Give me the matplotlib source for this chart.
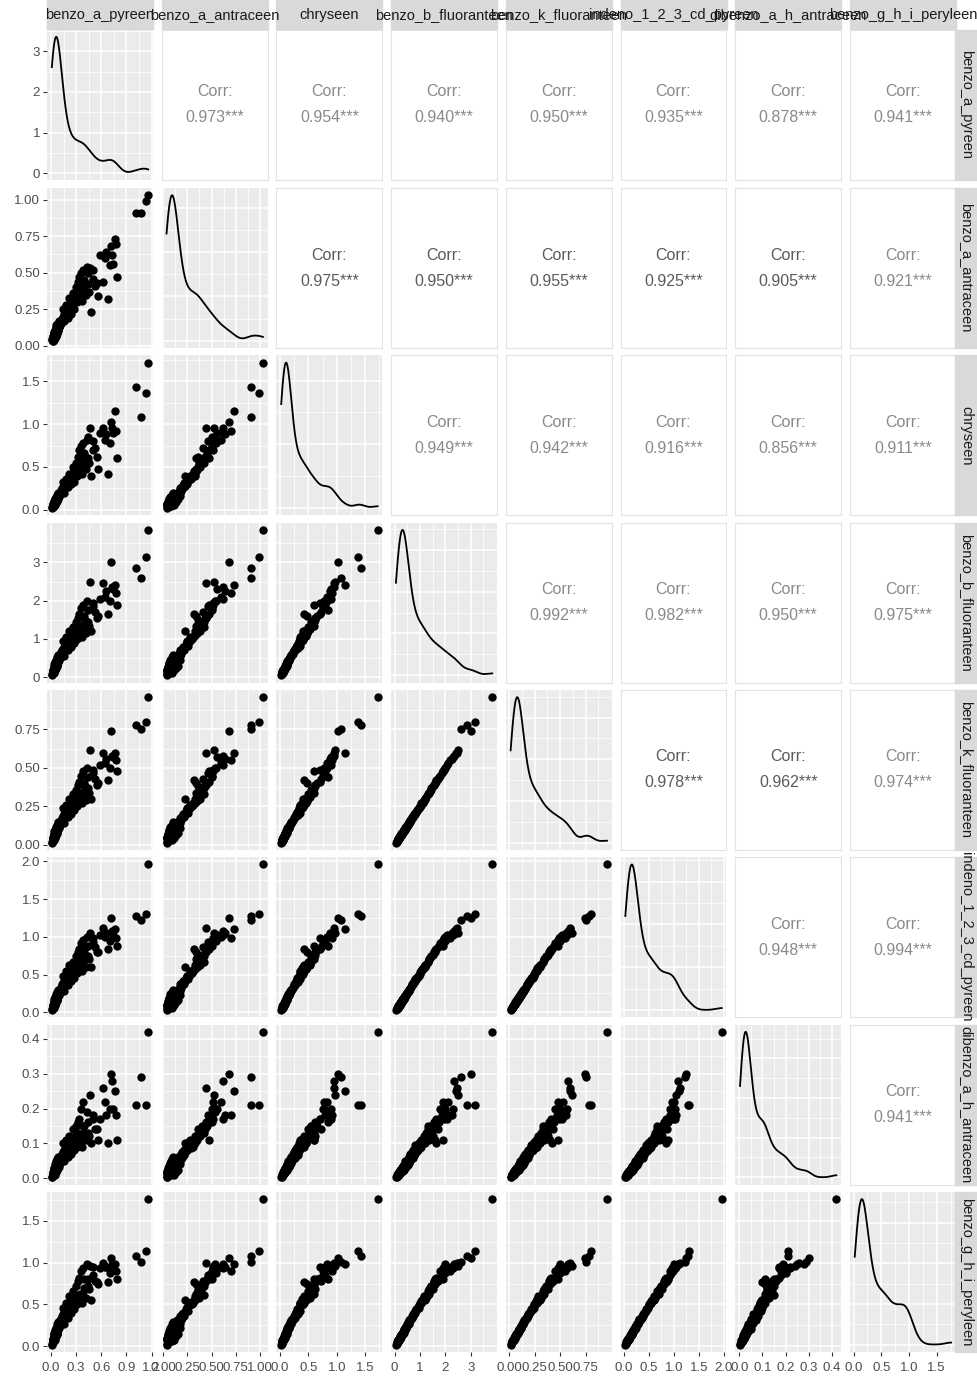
import numpy as np
import matplotlib
matplotlib.use('Agg')
import matplotlib.pyplot as plt
from matplotlib.ticker import FixedLocator, MaxNLocator

plt.rcParams['font.family'] = ['Liberation Sans', 'DejaVu Sans']

# variable names (facet strips)
names = ['benzo_a_pyreen', 'benzo_a_antraceen', 'chryseen', 'benzo_b_fluoranteen',
         'benzo_k_fluoranteen', 'indeno_1_2_3_cd_pyreen', 'dibenzo_a_h_antraceen',
         'benzo_g_h_i_peryleen']

bap = [0.010, 0.015, 0.020, 0.022, 0.025, 0.028, 0.030, 0.032, 0.035, 0.037,
       0.040, 0.042, 0.045, 0.047, 0.050, 0.052, 0.055, 0.057, 0.060, 0.062,
       0.065, 0.067, 0.070, 0.072, 0.075, 0.078, 0.080, 0.082, 0.085, 0.088,
       0.090, 0.092, 0.095, 0.098, 0.100, 0.105, 0.108, 0.112, 0.115, 0.120,
       0.125, 0.130, 0.135, 0.140, 0.145, 0.150, 0.158, 0.165, 0.172, 0.180,
       0.188, 0.195, 0.205, 0.215, 0.225, 0.235, 0.250, 0.262, 0.275, 0.290,
       0.32, 0.35, 0.38, 0.41, 0.44, 0.46, 0.48, 0.50, 0.53, 0.56, 0.58,
       0.62, 0.66, 0.68, 0.72, 0.74, 0.76, 0.79,
       1.16, 1.13, 1.08, 1.01,
       0.030, 0.035, 0.038, 0.040, 0.042, 0.045, 0.048, 0.050, 0.053, 0.055,
       0.058, 0.060, 0.063, 0.065, 0.070, 0.075, 0.085, 0.095,
       0.14, 0.16, 0.18, 0.20, 0.22, 0.24, 0.26, 0.28, 0.30,
       0.31, 0.32, 0.33, 0.34, 0.35, 0.36, 0.37, 0.38, 0.39, 0.40, 0.42, 0.43, 0.44, 0.45,
       0.50, 0.55, 0.64, 0.70, 0.73, 0.78,
       0.020, 0.022, 0.025, 0.027, 0.030, 0.032, 0.034, 0.036, 0.038, 0.040,
       0.042, 0.044, 0.046, 0.048, 0.050, 0.052, 0.054, 0.056, 0.058, 0.060,
       0.062, 0.064, 0.066, 0.068, 0.070, 0.045, 0.035, 0.055, 0.040, 0.050]
baa = [0.040, 0.045, 0.050, 0.048, 0.055, 0.060, 0.058, 0.062, 0.065, 0.070,
       0.068, 0.075, 0.078, 0.080, 0.085, 0.082, 0.090, 0.088, 0.095, 0.092,
       0.100, 0.105, 0.098, 0.110, 0.112, 0.108, 0.118, 0.115, 0.125, 0.120,
       0.130, 0.128, 0.135, 0.140, 0.132, 0.145, 0.150, 0.142, 0.155, 0.160,
       0.170, 0.185, 0.175, 0.200, 0.190, 0.215, 0.205, 0.230, 0.220, 0.245,
       0.235, 0.260, 0.250, 0.275, 0.290, 0.280, 0.310, 0.330, 0.320, 0.350,
       0.37, 0.34, 0.42, 0.36, 0.50, 0.53, 0.23, 0.46, 0.41, 0.34, 0.62,
       0.44, 0.64, 0.32, 0.68, 0.56, 0.73, 0.47,
       1.03, 0.99, 0.91, 0.91,
       0.035, 0.080, 0.050, 0.095, 0.060, 0.100, 0.070, 0.110, 0.065, 0.120,
       0.075, 0.130, 0.085, 0.140, 0.090, 0.150, 0.100, 0.170,
       0.25, 0.17, 0.28, 0.19, 0.33, 0.22, 0.36, 0.25, 0.40,
       0.30, 0.44, 0.33, 0.47, 0.38, 0.50, 0.31, 0.52, 0.40, 0.45, 0.35, 0.54, 0.42, 0.37,
       0.52, 0.43, 0.60, 0.55, 0.62, 0.70,
       0.050, 0.035, 0.060, 0.045, 0.070, 0.040, 0.080, 0.055, 0.065, 0.090,
       0.050, 0.075, 0.060, 0.095, 0.070, 0.055, 0.085, 0.100, 0.065, 0.080,
       0.110, 0.070, 0.090, 0.120, 0.085, 0.058, 0.062, 0.105, 0.072, 0.068]
chry = [0.020, 0.030, 0.035, 0.040, 0.045, 0.050, 0.048, 0.055, 0.060, 0.065,
        0.070, 0.072, 0.080, 0.075, 0.085, 0.090, 0.095, 0.100, 0.098, 0.110,
        0.105, 0.120, 0.115, 0.125, 0.130, 0.135, 0.128, 0.145, 0.150, 0.140,
        0.160, 0.155, 0.170, 0.165, 0.175, 0.180, 0.190, 0.200, 0.195, 0.210,
        0.230, 0.220, 0.250, 0.240, 0.270, 0.260, 0.290, 0.280, 0.310, 0.300,
        0.330, 0.350, 0.340, 0.380, 0.360, 0.400, 0.420, 0.390, 0.450, 0.470,
        0.52, 0.60, 0.55, 0.62, 0.85, 0.96, 0.40, 0.80, 0.72, 0.48, 0.90,
        0.95, 0.88, 0.42, 1.02, 0.90, 1.15, 0.60,
        1.72, 1.37, 1.08, 1.43,
        0.070, 0.040, 0.090, 0.060, 0.100, 0.080, 0.130, 0.060, 0.120, 0.110,
        0.150, 0.090, 0.140, 0.130, 0.170, 0.120, 0.190, 0.160,
        0.33, 0.20, 0.36, 0.26, 0.42, 0.30, 0.50, 0.33, 0.55,
        0.40, 0.62, 0.45, 0.70, 0.50, 0.75, 0.42, 0.78, 0.58, 0.66, 0.48, 0.82, 0.60, 0.55,
        0.70, 0.62, 0.82, 0.78, 0.95, 0.92,
        0.030, 0.050, 0.040, 0.065, 0.045, 0.070, 0.055, 0.085, 0.060, 0.075,
        0.095, 0.065, 0.090, 0.080, 0.110, 0.070, 0.100, 0.085, 0.120, 0.095,
        0.090, 0.130, 0.105, 0.100, 0.140, 0.080, 0.062, 0.098, 0.058, 0.088]
bbf = [0.05, 0.08, 0.10, 0.12, 0.13, 0.15, 0.14, 0.17, 0.18, 0.20,
       0.21, 0.22, 0.24, 0.23, 0.26, 0.28, 0.29, 0.30, 0.32, 0.33,
       0.35, 0.34, 0.37, 0.38, 0.36, 0.40, 0.42, 0.41, 0.44, 0.46,
       0.45, 0.48, 0.50, 0.47, 0.52, 0.54, 0.56, 0.58, 0.55, 0.60,
       0.65, 0.62, 0.70, 0.68, 0.74, 0.72, 0.78, 0.80, 0.76, 0.85,
       0.88, 0.82, 0.92, 0.95, 1.00, 0.98, 1.05, 1.10, 1.08, 1.15,
       1.25, 1.35, 1.30, 1.50, 1.75, 2.50, 1.20, 1.85, 1.70, 1.60, 2.05,
       2.45, 2.25, 1.65, 3.00, 2.30, 2.40, 1.90,
       3.85, 3.15, 2.60, 2.85,
       0.20, 0.15, 0.28, 0.12, 0.35, 0.22, 0.40, 0.18, 0.33, 0.30,
       0.45, 0.25, 0.42, 0.38, 0.52, 0.30, 0.58, 0.44,
       0.95, 0.55, 1.05, 0.70, 1.20, 0.80, 1.30, 0.90, 1.45,
       1.00, 1.55, 1.10, 1.65, 1.20, 1.80, 1.05, 1.90, 1.40, 1.60, 1.15, 2.00, 1.45, 1.35,
       1.95, 1.55, 2.10, 2.00, 2.35, 2.20,
       0.10, 0.14, 0.12, 0.18, 0.15, 0.20, 0.16, 0.24, 0.19, 0.22,
       0.28, 0.20, 0.26, 0.23, 0.32, 0.22, 0.30, 0.25, 0.36, 0.28,
       0.27, 0.38, 0.31, 0.30, 0.42, 0.24, 0.19, 0.29, 0.18, 0.26]
bkf = [0.015, 0.022, 0.028, 0.032, 0.035, 0.040, 0.038, 0.045, 0.048, 0.052,
       0.055, 0.058, 0.062, 0.060, 0.068, 0.072, 0.075, 0.078, 0.082, 0.085,
       0.090, 0.088, 0.095, 0.098, 0.094, 0.102, 0.108, 0.105, 0.112, 0.118,
       0.115, 0.122, 0.128, 0.120, 0.132, 0.138, 0.142, 0.148, 0.140, 0.152,
       0.165, 0.160, 0.178, 0.172, 0.188, 0.182, 0.198, 0.202, 0.195, 0.215,
       0.222, 0.210, 0.232, 0.240, 0.252, 0.248, 0.262, 0.275, 0.270, 0.288,
       0.31, 0.34, 0.33, 0.38, 0.44, 0.62, 0.30, 0.47, 0.43, 0.40, 0.52,
       0.60, 0.56, 0.42, 0.74, 0.57, 0.60, 0.48,
       0.96, 0.80, 0.75, 0.78,
       0.050, 0.040, 0.070, 0.032, 0.088, 0.058, 0.100, 0.048, 0.085, 0.078,
       0.115, 0.065, 0.108, 0.098, 0.132, 0.080, 0.148, 0.112,
       0.24, 0.14, 0.26, 0.18, 0.30, 0.20, 0.33, 0.23, 0.36,
       0.25, 0.39, 0.28, 0.41, 0.30, 0.45, 0.27, 0.48, 0.35, 0.40, 0.29, 0.50, 0.37, 0.34,
       0.49, 0.39, 0.53, 0.50, 0.58, 0.55,
       0.026, 0.036, 0.031, 0.047, 0.039, 0.052, 0.042, 0.062, 0.049, 0.057,
       0.072, 0.052, 0.068, 0.060, 0.083, 0.057, 0.078, 0.065, 0.094, 0.073,
       0.070, 0.099, 0.081, 0.078, 0.109, 0.062, 0.049, 0.075, 0.047, 0.068]
ind = [0.03, 0.04, 0.05, 0.06, 0.07, 0.08, 0.07, 0.09, 0.10, 0.10,
       0.11, 0.12, 0.13, 0.12, 0.14, 0.15, 0.15, 0.16, 0.17, 0.17,
       0.18, 0.18, 0.19, 0.20, 0.19, 0.21, 0.22, 0.21, 0.23, 0.24,
       0.23, 0.25, 0.26, 0.25, 0.27, 0.28, 0.29, 0.30, 0.29, 0.31,
       0.34, 0.32, 0.37, 0.36, 0.39, 0.38, 0.41, 0.42, 0.40, 0.45,
       0.46, 0.44, 0.48, 0.50, 0.53, 0.51, 0.55, 0.58, 0.57, 0.60,
       0.63, 0.70, 0.67, 0.76, 0.88, 1.05, 0.60, 0.93, 0.86, 0.80, 1.02,
       1.12, 1.05, 0.84, 1.25, 1.02, 1.10, 0.88,
       1.96, 1.30, 1.22, 1.28,
       0.10, 0.08, 0.14, 0.06, 0.17, 0.11, 0.20, 0.09, 0.17, 0.15,
       0.24, 0.13, 0.22, 0.19, 0.27, 0.16, 0.30, 0.23,
       0.48, 0.28, 0.54, 0.36, 0.62, 0.41, 0.67, 0.46, 0.74,
       0.52, 0.80, 0.57, 0.84, 0.62, 0.92, 0.55, 0.96, 0.72, 0.82, 0.60, 1.00, 0.75, 0.70,
       0.98, 0.80, 1.00, 0.95, 1.08, 0.98,
       0.05, 0.07, 0.06, 0.09, 0.08, 0.10, 0.08, 0.12, 0.10, 0.11,
       0.15, 0.10, 0.14, 0.12, 0.17, 0.11, 0.16, 0.13, 0.19, 0.15,
       0.14, 0.20, 0.16, 0.16, 0.22, 0.12, 0.10, 0.15, 0.09, 0.14]
dba = [0.003, 0.005, 0.008, 0.010, 0.012, 0.010, 0.015, 0.012, 0.018, 0.020,
       0.015, 0.022, 0.020, 0.025, 0.018, 0.028, 0.025, 0.030, 0.022, 0.032,
       0.028, 0.035, 0.030, 0.038, 0.025, 0.040, 0.035, 0.042, 0.038, 0.045,
       0.032, 0.048, 0.042, 0.050, 0.038, 0.052, 0.045, 0.055, 0.060, 0.050,
       0.060, 0.070, 0.065, 0.075, 0.058, 0.080, 0.072, 0.085, 0.068, 0.090,
       0.078, 0.095, 0.082, 0.100, 0.088, 0.105, 0.095, 0.112, 0.100, 0.120,
       0.13, 0.11, 0.15, 0.12, 0.16, 0.24, 0.10, 0.18, 0.14, 0.11, 0.17,
       0.26, 0.18, 0.10, 0.30, 0.20, 0.25, 0.11,
       0.42, 0.21, 0.29, 0.21,
       0.015, 0.008, 0.025, 0.012, 0.030, 0.020, 0.040, 0.010, 0.035, 0.028,
       0.045, 0.018, 0.050, 0.032, 0.055, 0.025, 0.060, 0.040,
       0.10, 0.05, 0.11, 0.06, 0.12, 0.07, 0.14, 0.08, 0.15,
       0.09, 0.16, 0.10, 0.17, 0.12, 0.20, 0.09, 0.22, 0.13, 0.15, 0.11, 0.19, 0.13, 0.12,
       0.17, 0.14, 0.22, 0.20, 0.28, 0.18,
       0.008, 0.012, 0.010, 0.018, 0.012, 0.020, 0.014, 0.025, 0.015, 0.020,
       0.030, 0.016, 0.026, 0.018, 0.032, 0.020, 0.028, 0.022, 0.036, 0.024,
       0.025, 0.038, 0.027, 0.026, 0.042, 0.020, 0.016, 0.028, 0.014, 0.024]
bghi = [0.02, 0.03, 0.05, 0.05, 0.06, 0.07, 0.07, 0.08, 0.09, 0.10,
        0.10, 0.11, 0.12, 0.12, 0.13, 0.14, 0.15, 0.15, 0.16, 0.17,
        0.18, 0.17, 0.19, 0.20, 0.18, 0.21, 0.22, 0.21, 0.23, 0.24,
        0.23, 0.25, 0.26, 0.24, 0.27, 0.29, 0.29, 0.31, 0.28, 0.32,
        0.33, 0.31, 0.36, 0.35, 0.38, 0.36, 0.40, 0.41, 0.38, 0.44,
        0.45, 0.42, 0.47, 0.49, 0.52, 0.50, 0.54, 0.57, 0.55, 0.60,
        0.58, 0.63, 0.61, 0.69, 0.80, 0.96, 0.55, 0.85, 0.78, 0.74, 0.93,
        1.00, 0.95, 0.77, 1.05, 0.93, 0.98, 0.80,
        1.76, 1.14, 1.01, 1.08,
        0.09, 0.07, 0.13, 0.06, 0.16, 0.10, 0.19, 0.08, 0.17, 0.14,
        0.22, 0.12, 0.21, 0.18, 0.26, 0.15, 0.29, 0.22,
        0.46, 0.27, 0.52, 0.34, 0.60, 0.40, 0.66, 0.44, 0.72,
        0.50, 0.78, 0.55, 0.82, 0.60, 0.90, 0.52, 0.94, 0.70, 0.80, 0.58, 0.98, 0.72, 0.68,
        0.95, 0.77, 0.95, 0.88, 0.98, 0.90,
        0.05, 0.07, 0.06, 0.09, 0.07, 0.10, 0.08, 0.11, 0.09, 0.10,
        0.14, 0.10, 0.13, 0.11, 0.16, 0.11, 0.15, 0.12, 0.18, 0.14,
        0.13, 0.19, 0.15, 0.15, 0.21, 0.12, 0.09, 0.14, 0.09, 0.13]

data = [bap, baa, chry, bbf, bkf, ind, dba, bghi]
assert len({len(v) for v in data}) == 1

# correlation labels as printed (upper triangle, row by row)
corr_rows = [
    ['0.973', '0.954', '0.940', '0.950', '0.935', '0.878', '0.941'],
    ['0.975', '0.950', '0.955', '0.925', '0.905', '0.921'],
    ['0.949', '0.942', '0.916', '0.856', '0.911'],
    ['0.992', '0.982', '0.950', '0.975'],
    ['0.978', '0.962', '0.974'],
    ['0.948', '0.994'],
    ['0.941'],
]

# axis breaks per variable
breaks = [[0, 0.3, 0.6, 0.9, 1.2], [0, 0.25, 0.5, 0.75, 1.0], [0, 0.5, 1.0, 1.5],
          [0, 1, 2, 3], [0, 0.25, 0.5, 0.75], [0, 0.5, 1.0, 1.5, 2.0],
          [0, 0.1, 0.2, 0.3, 0.4], [0, 0.5, 1.0, 1.5]]
break_labels = [['0.0', '0.3', '0.6', '0.9', '1.2'], ['0.00', '0.25', '0.50', '0.75', '1.00'],
                ['0.0', '0.5', '1.0', '1.5'], ['0', '1', '2', '3'],
                ['0.00', '0.25', '0.50', '0.75'], ['0.0', '0.5', '1.0', '1.5', '2.0'],
                ['0.0', '0.1', '0.2', '0.3', '0.4'], ['0.0', '0.5', '1.0', '1.5']]

dark = {(1, 2), (1, 3), (1, 4), (1, 5), (1, 6), (4, 5), (4, 6)}

W, H = 978, 1380
n = len(names)


def nrd0(x):
    sd = np.std(x, ddof=1)
    q75, q25 = np.percentile(x, [75, 25])
    lo = min(sd, (q75 - q25) / 1.34)
    return 0.9 * lo * len(x) ** -0.2


def kde(x):
    x = np.asarray(x)
    bw = nrd0(x)
    grid = np.linspace(x.min(), x.max(), 512)
    z = (grid[:, None] - x[None, :]) / bw
    d = np.exp(-0.5 * z ** 2).sum(axis=1) / (len(x) * bw * np.sqrt(2 * np.pi))
    return grid, d


def limits(v):
    lo, hi = min(v), max(v)
    pad = 0.05 * (hi - lo)
    return lo - pad, hi + pad


def minors(major, lim):
    step = major[1] - major[0]
    cand = [major[0] - step / 2] + [m + step / 2 for m in major]
    return [c for c in cand if lim[0] <= c <= lim[1]]


def panel_box(i, j):
    left = 47 + j * 114.7
    if i == 0:
        top, h = 30, 150
    else:
        top, h = 188 + (i - 1) * 167.3, 160
    return [left / W, 1 - (top + h) / H, 106 / W, h / H], top, h


fig = plt.figure(figsize=(W / 100, H / 100), dpi=100)

for i in range(n):
    for j in range(n):
        rect, top, h = panel_box(i, j)
        ax = fig.add_axes(rect)
        xlim = limits(data[j])
        ax.set_xlim(xlim)
        for s in ax.spines.values():
            s.set_visible(False)
        ax.tick_params(length=0, labelbottom=False, labelleft=False)

        if i < j:
            # upper triangle: correlation text
            ax.set_facecolor('white')
            for s in ax.spines.values():
                s.set_visible(True)
                s.set_color('#E3E3E3')
                s.set_linewidth(0.8)
            ax.set_xticks([])
            ax.set_yticks([])
            col = '#5A5A5A' if (i, j) in dark else '#8A8A8A'
            off = 13 / h
            ax.text(0.5, 0.5 + off, 'Corr:', transform=ax.transAxes, ha='center',
                    va='center', fontsize=11.5, color=col)
            ax.text(0.5, 0.5 - off, corr_rows[i][j - i - 1] + '***', transform=ax.transAxes,
                    ha='center', va='center', fontsize=11.5, color=col)
            continue

        ax.set_facecolor('#EBEBEB')
        ax.set_axisbelow(True)
        if i == j:
            gx, gy = kde(data[j])
            ax.plot(gx, gy, color='black', lw=1.3)
            ymax = gy.max()
            ylim = (-0.05 * ymax, 1.05 * ymax)
            ax.set_ylim(ylim)
            ymaj = [t for t in MaxNLocator(nbins=4, steps=[1, 2, 2.5, 5, 10]).tick_values(0, ymax)
                    if ylim[0] <= t <= ylim[1]]
            ylab = ['%g' % t for t in ymaj]
        else:
            ax.scatter(data[j], data[i], s=36, color='black', linewidths=0, zorder=3)
            ylim = limits(data[i])
            ax.set_ylim(ylim)
            ymaj = [t for t in breaks[i] if ylim[0] <= t <= ylim[1]]
            ylab = [l for t, l in zip(breaks[i], break_labels[i]) if ylim[0] <= t <= ylim[1]]

        xmaj = [t for t in breaks[j] if xlim[0] <= t <= xlim[1]]
        xlab = [l for t, l in zip(breaks[j], break_labels[j]) if xlim[0] <= t <= xlim[1]]
        ax.xaxis.set_major_locator(FixedLocator(xmaj))
        ax.yaxis.set_major_locator(FixedLocator(ymaj))
        ax.xaxis.set_minor_locator(FixedLocator(minors(xmaj, xlim)))
        ax.yaxis.set_minor_locator(FixedLocator(minors(ymaj, ylim)))
        ax.grid(which='major', color='white', lw=1.1)
        ax.grid(which='minor', color='white', lw=0.55)
        ax.tick_params(which='minor', length=0)

        if j == 0:
            ax.set_yticklabels(ylab)
            ax.tick_params(axis='y', which='major', length=3, width=0.8, color='#333333',
                           labelleft=True, labelsize=9.5, labelcolor='#4D4D4D', pad=2)
        if i == n - 1:
            ax.set_xticklabels(xlab)
            ax.tick_params(axis='x', which='major', length=3, width=0.8, color='#333333',
                           labelbottom=True, labelsize=9.5, labelcolor='#4D4D4D', pad=4)

# facet strips
for j in range(n):
    left = 47 + j * 114.7
    fig.patches.append(plt.Rectangle((left / W, 1 - 29 / H), 106 / W, 29 / H,
                                     transform=fig.transFigure, color='#D9D9D9', zorder=0))
    fig.text((left + 53) / W, 1 - 15 / H, names[j], ha='center', va='center',
             fontsize=10.5, color='#1A1A1A')
for i in range(n):
    _, top, h = panel_box(i, 0)
    fig.patches.append(plt.Rectangle((955 / W, 1 - (top + h) / H), 23 / W, h / H,
                                     transform=fig.transFigure, color='#D9D9D9', zorder=0))
    fig.text(966 / W, 1 - (top + h / 2) / H, names[i], ha='center', va='center',
             rotation=-90, fontsize=10.5, color='#1A1A1A')

fig.savefig('out.png', dpi=100)
